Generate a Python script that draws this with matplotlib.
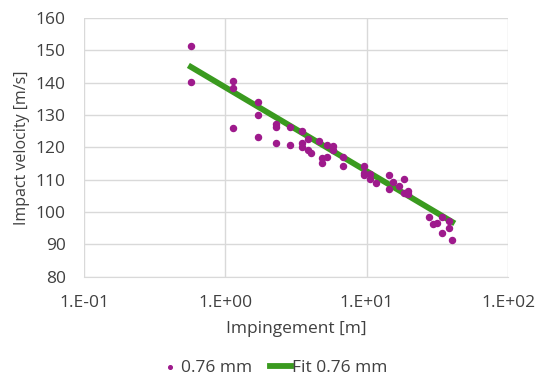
import matplotlib
matplotlib.use("Agg")
import matplotlib.pyplot as plt
from matplotlib.ticker import FixedLocator, FixedFormatter

plt.rcParams["font.family"] = ["Open Sans", "DejaVu Sans"]

# impingement distance [m] and impact velocity [m/s]
impingement = [
    0.57, 0.57, 1.13, 1.13, 1.13, 1.71, 1.71, 1.71,
    2.27, 2.27, 2.27, 2.86, 2.86, 3.45, 3.45, 3.45,
    3.85, 3.85, 4.02, 4.6, 4.79, 4.79, 5.19, 5.19,
    5.78, 5.78, 6.73, 6.73, 9.57, 9.57, 9.57, 10.6,
    10.6, 11.6, 14.4, 14.4, 15.3, 16.9, 18.3, 18.3,
    19.6, 19.6, 27.6, 29.4, 31.1, 33.9, 33.9, 38.2,
    38.2, 40.1,
]
velocity = [
    151.4, 140.1, 140.5, 138.3, 125.9, 133.9, 130.0, 123.3,
    127.2, 126.4, 121.2, 126.2, 120.7, 125.0, 121.2, 120.2,
    122.5, 119.2, 118.3, 122.0, 116.6, 115.2, 120.7, 117.1,
    120.4, 119.2, 117.0, 114.1, 114.3, 112.0, 111.4, 111.7,
    110.1, 108.9, 111.5, 107.2, 109.2, 108.0, 110.2, 106.0,
    106.4, 105.6, 98.3, 96.3, 96.7, 98.3, 93.6, 97.1,
    95.1, 91.3,
]

# logarithmic fit, end points
fit_x = [0.57, 40.1]
fit_y = [144.9, 96.9]

x_ticks = [0.1, 1, 10, 100]
x_labels = ["1.E-01", "1.E+00", "1.E+01", "1.E+02"]

fig = plt.figure(figsize=(5.38, 3.78), dpi=100)
ax = fig.add_axes([0.156, 0.2685, 0.789, 0.6835])

ax.scatter(impingement, velocity, s=19, color="#9E1A8C", label="0.76 mm", zorder=3)
ax.plot(fit_x, fit_y, color="#3A9A1F", linewidth=4.2, label="Fit 0.76 mm", zorder=2)

ax.set_xscale("log")
ax.set_xlim(0.1, 100)
ax.set_ylim(80, 160)
ax.xaxis.set_major_locator(FixedLocator(x_ticks))
ax.xaxis.set_major_formatter(FixedFormatter(x_labels))
ax.xaxis.set_minor_locator(FixedLocator([]))
ax.set_yticks(range(80, 161, 10))

ax.grid(True, color="#D9D9D9", linewidth=1)
ax.set_axisbelow(True)
for side in ["top", "right", "left"]:
    ax.spines[side].set_visible(False)
ax.spines["bottom"].set_color("#D9D9D9")
ax.tick_params(length=0, labelsize=12.5, colors="#404040")
ax.tick_params(axis="x", pad=13.5)
ax.tick_params(axis="y", pad=13)

ax.set_xlabel("Impingement [m]", fontsize=12.5, color="#404040", labelpad=7)
ax.set_ylabel("Impact velocity [m/s]", fontsize=11.5, color="#404040", labelpad=4)

fig.legend(loc="center", bbox_to_anchor=(0.508, 0.027), ncol=2, frameon=False,
           fontsize=12.5, labelcolor="#404040", handlelength=1.2, columnspacing=1.0,
           handletextpad=0.05, markerscale=0.6)

fig.savefig("out.png", dpi=100)
